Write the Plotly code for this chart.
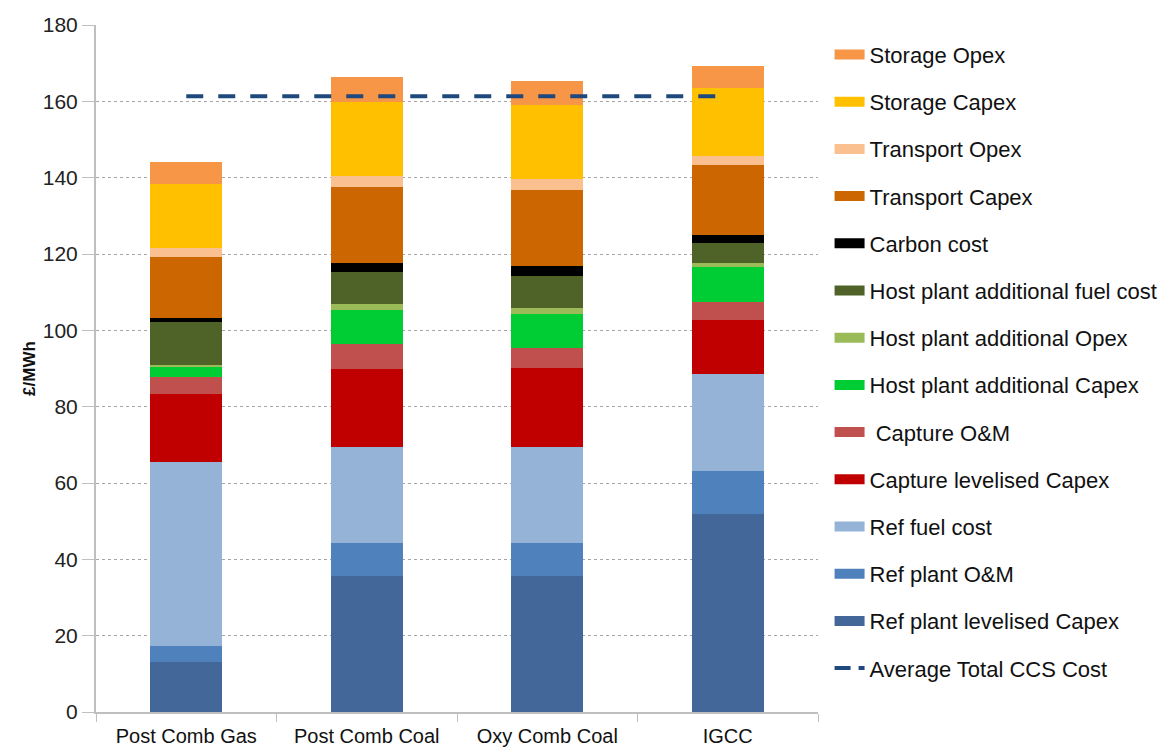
import plotly.graph_objects as go

# Technology options on the x axis
categories = ["Post Comb Gas", "Post Comb Coal", "Oxy Comb Coal", "IGCC"]

# Cost components (£/MWh), listed bottom of the stack first
ref_plant_capex = [13.0, 35.6, 35.6, 52.0]
ref_plant_om = [4.3, 8.7, 8.7, 11.2]
ref_fuel_cost = [48.2, 25.1, 25.1, 25.3]
capture_capex = [17.7, 20.6, 20.8, 14.2]
capture_om = [4.7, 6.5, 5.2, 4.6]
host_add_capex = [2.6, 8.8, 9.0, 9.2]
host_add_opex = [0.3, 1.5, 1.4, 1.2]
host_add_fuel = [11.5, 8.4, 8.4, 5.2]
carbon_cost = [1.0, 2.5, 2.6, 2.2]
transport_capex = [15.8, 19.9, 20.0, 18.2]
transport_opex = [2.4, 2.9, 2.8, 2.5]
storage_capex = [16.8, 19.4, 19.4, 17.6]
storage_opex = [5.7, 6.5, 6.4, 5.8]

# Average total CCS cost across the four options
average_total = 161.3

series = [
    ("Ref plant levelised Capex", ref_plant_capex, "#44679A"),
    ("Ref plant O&M", ref_plant_om, "#4F81BD"),
    ("Ref fuel cost", ref_fuel_cost, "#95B3D7"),
    ("Capture levelised Capex", capture_capex, "#C00000"),
    (" Capture O&M", capture_om, "#C0504D"),
    ("Host plant additional Capex", host_add_capex, "#00CC33"),
    ("Host plant additional Opex", host_add_opex, "#9BBB59"),
    ("Host plant additional fuel cost", host_add_fuel, "#4F6228"),
    ("Carbon cost", carbon_cost, "#000000"),
    ("Transport Capex", transport_capex, "#CC6600"),
    ("Transport Opex", transport_opex, "#FAC090"),
    ("Storage Capex", storage_capex, "#FFC000"),
    ("Storage Opex", storage_opex, "#F79646"),
]

FONT = "Liberation Sans, Arial, sans-serif"

fig = go.Figure()

n = len(series)
for i, (name, vals, color) in enumerate(series):
    fig.add_trace(go.Bar(
        x=categories, y=vals, name=name,
        marker=dict(color=color, line=dict(width=0)),
        showlegend=False,
    ))
    # legend swatch drawn as a wide stroke
    fig.add_trace(go.Scatter(
        x=[None], y=[None], mode="lines", name=name,
        line=dict(color=color, width=10),
        legendgroup=name, legendrank=n - i, showlegend=True,
    ))

fig.add_trace(go.Scatter(
    x=[categories[0], categories[-1]], y=[average_total, average_total],
    mode="lines", name="Average Total CCS Cost",
    line=dict(color="#1F497D", width=4, dash="17px,15px"),
    showlegend=False,
))
fig.add_trace(go.Scatter(
    x=[None], y=[None], mode="lines", name="Average Total CCS Cost",
    line=dict(color="#1F497D", width=4, dash="16px,8px"),
    legendgroup="avg", legendrank=n + 1, showlegend=True,
))

fig.update_layout(
    width=1163, height=749,
    margin=dict(l=96, r=345, t=25, b=37),
    barmode="stack", bargap=0.6,
    plot_bgcolor="white", paper_bgcolor="white",
    font=dict(family=FONT, size=20, color="#222222"),
    legend=dict(
        traceorder="grouped", tracegroupgap=15.6,
        font=dict(family=FONT, size=22, color="#111111"),
        xref="container", yref="container",
        x=0.7133, y=0.955, xanchor="left", yanchor="top",
        itemwidth=30, bgcolor="rgba(0,0,0,0)", maxheight=1.0,
    ),
)

fig.update_yaxes(
    range=[0, 180], dtick=20, showgrid=True,
    gridcolor="#A6A6A6", griddash="dot", gridwidth=1,
    showline=True, linecolor="#BFBFBF", linewidth=2,
    ticks="outside", ticklen=12, tickcolor="#BFBFBF",
    tickfont=dict(family=FONT, size=21, color="#222222"),
    title=dict(text="<b>£/MWh</b>", font=dict(family=FONT, size=17, color="#111111"), standoff=3),
    zeroline=False,
)
fig.update_xaxes(
    showline=True, linecolor="#BFBFBF", linewidth=2,
    ticks="outside", tickson="boundaries", ticklen=8, tickcolor="#BFBFBF",
    tickfont=dict(family=FONT, size=20, color="#111111"),
    ticklabelstandoff=5, automargin=False,
)

fig.write_html("out.html")
